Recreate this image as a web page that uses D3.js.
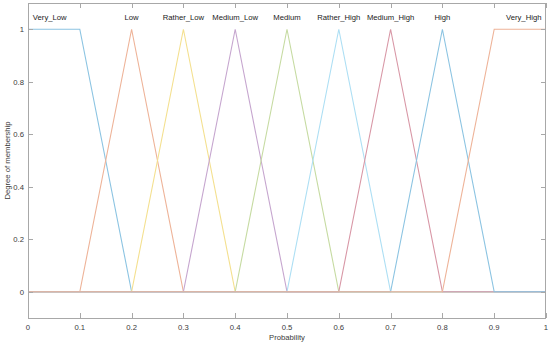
<!DOCTYPE html>
<html><head><meta charset="utf-8">
<script src="https://cdn.jsdelivr.net/npm/d3@7"></script>
<style>
html,body{margin:0;padding:0;background:#fff;}
text{font-family:"Liberation Sans",Arial,sans-serif;}
</style>
</head><body>
<svg id="c" width="550" height="344"></svg>
<script>
// Membership function names
const mfNames = ["Very_Low","Low","Rather_Low","Medium_Low","Medium","Rather_High","Medium_High","High","Very_High"];
// Membership function parameters (trapmf: 4 values, trimf: 3 values)
const mfParams = [
  [0, 0, 0.1, 0.2],
  [0.1, 0.2, 0.3],
  [0.2, 0.3, 0.4],
  [0.3, 0.4, 0.5],
  [0.4, 0.5, 0.6],
  [0.5, 0.6, 0.7],
  [0.6, 0.7, 0.8],
  [0.7, 0.8, 0.9],
  [0.8, 0.9, 1, 1]
];
// Label anchor x positions
const labelX = [0.042, 0.2, 0.3, 0.4, 0.5, 0.6, 0.7, 0.8, 0.957];
const xTicks = [0,0.1,0.2,0.3,0.4,0.5,0.6,0.7,0.8,0.9,1];
const yTicks = [0,0.2,0.4,0.6,0.8,1];
const colors = ["#8cc4e2","#eeb398","#f4e08f","#c6a6cf","#c6dba2","#addff4","#d897a6","#8cc4e2","#eeb398"];

const svg = d3.select("#c");
const L = 28, R = 546, T = 3, B = 318;
const x = d3.scaleLinear().domain([0,1]).range([L,R]);
const y = d3.scaleLinear().domain([-0.1,1.1]).range([B,T]);
const axisColor = "#a8a8a8";
const textColor = "#3a3a3a";

function verts(p){
  let pts;
  if (p.length === 3) pts = [[p[0],0],[p[1],1],[p[2],0]];
  else pts = [[p[0],0],[p[1],1],[p[2],1],[p[3],0]];
  if (pts[0][0] > 0) pts.unshift([0,0]); else if (p.length===4 && p[0]===p[1]) pts[0] = [0,1];
  if (pts[pts.length-1][0] < 1) pts.push([1,0]); else if (p.length===4 && p[2]===p[3]) pts[pts.length-1]=[1,1];
  return pts.filter((d,i,a)=> i===0 || !(d[0]===a[i-1][0] && d[1]===a[i-1][1]));
}

const line = d3.line().x(d=>x(d[0])).y(d=>y(d[1]));
mfParams.forEach((p,i)=>{
  svg.append("path").attr("d", line(verts(p)))
    .attr("fill","none").attr("stroke",colors[i]).attr("stroke-width",1.1);
});

svg.append("rect").attr("x",L+0.5).attr("y",T+0.5).attr("width",R-L-1).attr("height",B-T)
  .attr("fill","none").attr("stroke",axisColor).attr("stroke-width",1);

const tk = 5;
const g = svg.append("g").attr("stroke",axisColor).attr("stroke-width",1);
xTicks.forEach(v=>{
  const px = Math.round(x(v))+0.5;
  g.append("line").attr("x1",px).attr("x2",px).attr("y1",B).attr("y2",B-tk);
  g.append("line").attr("x1",px).attr("x2",px).attr("y1",T).attr("y2",T+tk);
});
yTicks.forEach(v=>{
  const py = Math.round(y(v))+0.5;
  g.append("line").attr("x1",L).attr("x2",L+tk).attr("y1",py).attr("y2",py);
  g.append("line").attr("x1",R).attr("x2",R-tk).attr("y1",py).attr("y2",py);
});

const fs = 7.7;
xTicks.forEach(v=>{
  svg.append("text").attr("x",x(v)).attr("y",330).attr("text-anchor","middle")
    .attr("font-size",fs).attr("fill",textColor).text(d3.format("~g")(v));
});
yTicks.forEach(v=>{
  svg.append("text").attr("x",L-4).attr("y",y(v)+2.8).attr("text-anchor","end")
    .attr("font-size",fs).attr("fill",textColor).text(d3.format("~g")(v));
});
svg.append("text").attr("x",(L+R)/2).attr("y",340).attr("text-anchor","middle")
  .attr("font-size",fs).attr("fill",textColor).text("Probability");
svg.append("text").attr("transform",`translate(10,${(T+B)/2}) rotate(-90)`).attr("text-anchor","middle")
  .attr("font-size",fs).attr("fill",textColor).text("Degree of membership");

mfNames.forEach((n,i)=>{
  svg.append("text").attr("x",x(labelX[i])).attr("y",20).attr("text-anchor","middle")
    .attr("font-size",fs).attr("fill","#1a1a1a").text(n);
});
</script>
</body></html>
